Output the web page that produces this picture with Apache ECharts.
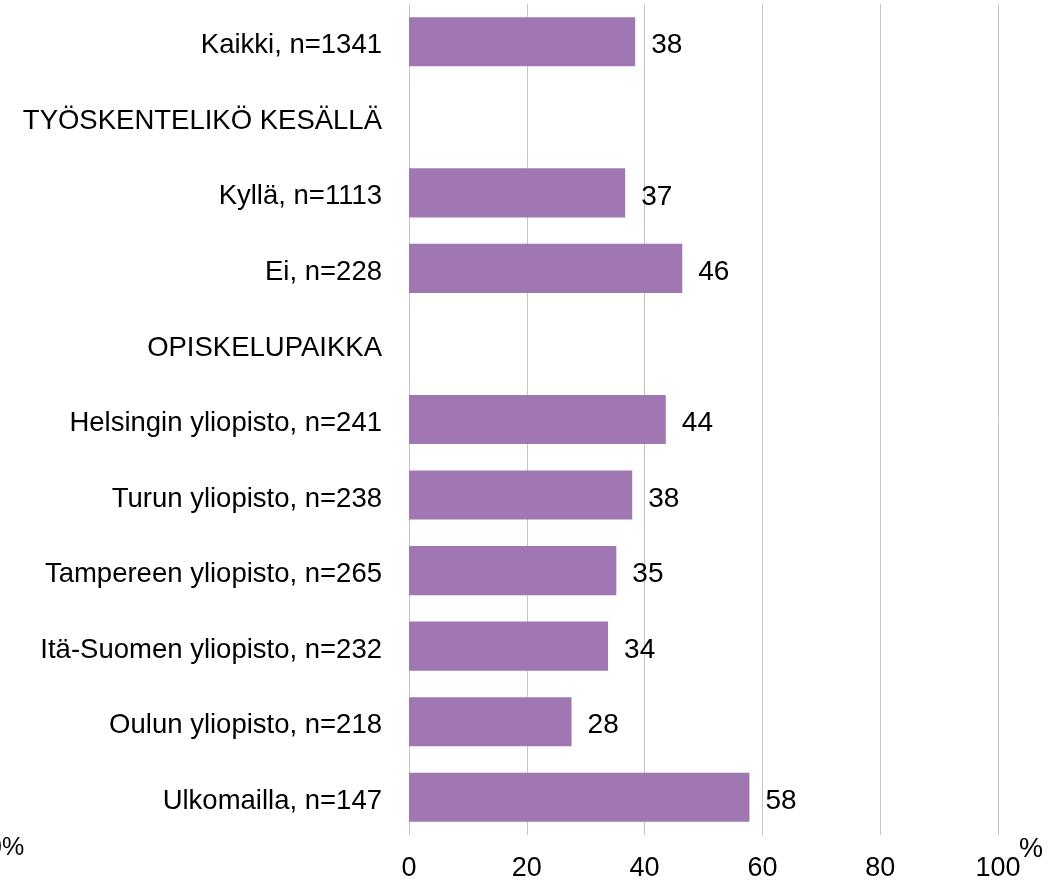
<!DOCTYPE html>
<html>
<head>
<meta charset="utf-8">
<script src="https://cdn.jsdelivr.net/npm/echarts@6/dist/echarts.min.js"></script>
<style>
  html, body { margin: 0; padding: 0; background: #fff; }
  #chart { width: 1056px; height: 883px; }
</style>
</head>
<body>
<div id="chart"></div>
<script>
// categories top to bottom; header rows carry no value
const categories = [
  'Kaikki, n=1341',
  'TYÖSKENTELIKÖ KESÄLLÄ',
  'Kyllä, n=1113',
  'Ei, n=228',
  'OPISKELUPAIKKA',
  'Helsingin yliopisto, n=241',
  'Turun yliopisto, n=238',
  'Tampereen yliopisto, n=265',
  'Itä-Suomen yliopisto, n=232',
  'Oulun yliopisto, n=218',
  'Ulkomailla, n=147'
]
const shares = [38.4, null, 36.7, 46.4, null, 43.6, 37.9, 35.2, 33.8, 27.6, 57.8]
const xTicks = [0, 20, 40, 60, 80, 100]

const font = 'Liberation Sans, Arial, sans-serif'
const myChart = echarts.init(document.getElementById('chart'))
myChart.setOption({
  backgroundColor: '#ffffff',
  animation: false,
  grid: {
    top: 4,
    left: 409,
    right: 58,
    bottom: 48
  },
  xAxis: {
    type: 'value',
    min: xTicks[0],
    max: xTicks[xTicks.length - 1],
    interval: 20,
    axisLine: { show: false },
    axisTick: { show: false },
    axisLabel: {
      margin: 20,
      color: '#000',
      fontFamily: font,
      fontSize: 27
    },
    splitLine: {
      show: true,
      lineStyle: { color: '#c3c3c3', width: 1 }
    }
  },
  yAxis: {
    type: 'category',
    inverse: true,
    data: categories,
    axisLine: { show: false },
    axisTick: { show: false },
    axisLabel: {
      margin: 27,
      color: '#000',
      fontFamily: font,
      fontSize: 27.5,
      formatter: v => '{t|' + v + '}',
      rich: {
        t: { fontFamily: font, fontSize: 27.5, color: '#000', padding: [8, 0, 0, 0] }
      }
    },
    splitLine: { show: false }
  },
  series: [{
    type: 'bar',
    data: shares,
    barCategoryGap: '35%',
    itemStyle: { color: '#a076b3' },
    label: {
      show: true,
      position: 'right',
      distance: 16,
      offset: [0, 4],
      color: '#000',
      fontFamily: font,
      fontSize: 28,
      formatter: p => (p.value == null ? '' : Math.round(p.value))
    }
  }],
  graphic: [
    {
      type: 'text',
      left: 1019,
      top: 836,
      style: { text: '%', fontFamily: font, fontSize: 27, fill: '#000' }
    },
    {
      type: 'text',
      left: -12,
      top: 836,
      style: { text: '0%', fontFamily: font, fontSize: 25, fill: '#000' }
    }
  ]
})
</script>
</body>
</html>
